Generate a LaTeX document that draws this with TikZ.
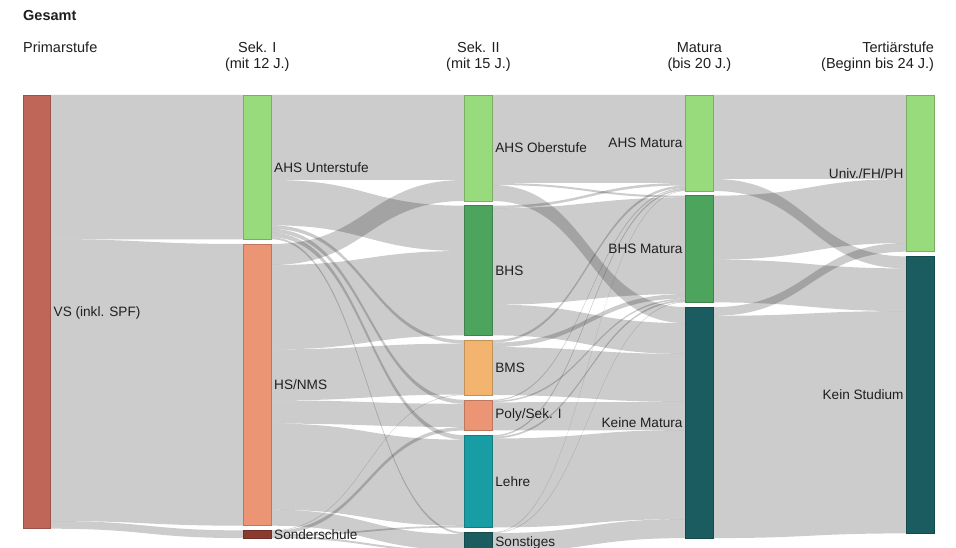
\documentclass[tikz,border=0pt]{standalone}
\usepackage{fontspec}
\setmainfont{Liberation Sans}
\usetikzlibrary{calc}
\pgfdeclarelayer{back}
\pgfdeclarelayer{links}
\pgfsetlayers{back,links,main}
\definecolor{cVS}{HTML}{BF6659}
\definecolor{cLG}{HTML}{98DB7C}
\definecolor{cSal}{HTML}{EB9575}
\definecolor{cSo}{HTML}{8B3A2F}
\definecolor{cDG}{HTML}{4DA55D}
\definecolor{cBMS}{HTML}{F2B46F}
\definecolor{cLe}{HTML}{179DA3}
\definecolor{cDT}{HTML}{1A5C60}
\tikzset{
 sbox/.style={rectangle, inner sep=0pt, outer sep=0pt, minimum width=27.5pt, line width=0.6pt},
 flow/.style={fill=black, fill opacity=0.2},
 lab/.style={inner sep=0pt, text=black!88, font=\fontsize{13.6}{16}\selectfont},
 head/.style={inner sep=0pt, text=black!88, font=\fontsize{14.5}{17}\selectfont},
}
% node: name, colour, x, y top, height
\newcommand\mkbox[5]{%
  \node[sbox, fill=#2, draw=#2!80!black, minimum height=#5pt, anchor=north west] (#1) at (#3,#4) {};
  \expandafter\gdef\csname out#1\endcsname{0}%
  \expandafter\gdef\csname in#1\endcsname{0}}
% band: source, target, value (stacked automatically)
\newcommand\flowband[3]{%
  \pgfmathsetmacro\fso{\csname out#1\endcsname}%
  \pgfmathsetmacro\fti{\csname in#2\endcsname}%
  \pgfmathsetmacro\fse{\fso+#3}%
  \pgfmathsetmacro\fte{\fti+#3}%
  \begin{pgfonlayer}{links}
  \fill[flow] let \p1=(#1.north east), \p2=(#2.north west), \p3=($(\p1)!0.5!(\p2)$) in
    (\x1,\y1-\fso pt) .. controls (\x3,\y1-\fso pt) and (\x3,\y2-\fti pt) .. (\x2,\y2-\fti pt)
    -- (\x2,\y2-\fte pt) .. controls (\x3,\y2-\fte pt) and (\x3,\y1-\fse pt) .. (\x1,\y1-\fse pt) -- cycle;
  \end{pgfonlayer}
  \expandafter\xdef\csname out#1\endcsname{\fse}%
  \expandafter\xdef\csname in#2\endcsname{\fte}}

\begin{document}
\begin{tikzpicture}[x=1pt,y=-1pt]
\useasboundingbox (0,0) rectangle (956,548);
\begin{pgfonlayer}{back}
\fill[white] (0,0) rectangle (956,548);
\end{pgfonlayer}

% column 1
\mkbox{VS}{cVS}{23}{95}{433.7}
% column 2
\mkbox{AHSU}{cLG}{243.5}{95}{144.3}
\mkbox{HS}{cSal}{243.5}{244}{281.7}
\mkbox{SO}{cSo}{243.5}{530.4}{7.7}
% column 3
\mkbox{AHSO}{cLG}{464.7}{95}{106}
\mkbox{BHS}{cDG}{464.7}{205.7}{129.7}
\mkbox{BMS}{cBMS}{464.7}{340.1}{55}
\mkbox{Poly}{cSal}{464.7}{399.8}{30.7}
\mkbox{Lehre}{cLe}{464.7}{435.2}{92.3}
\mkbox{Sonst}{cDT}{464.7}{532.2}{20}
% column 4
\mkbox{AHSM}{cLG}{685.7}{95}{96}
\mkbox{BHSM}{cDG}{685.7}{195.7}{106.7}
\mkbox{KM}{cDT}{685.7}{307.1}{231}
% column 5
\mkbox{Univ}{cLG}{906.7}{95}{156.7}
\mkbox{KS}{cDT}{906.7}{256.4}{277}

% flows 1 -> 2
\flowband{VS}{AHSU}{144.3}
\flowband{VS}{HS}{281.7}
\flowband{VS}{SO}{7.7}
% flows 2 -> 3
\flowband{AHSU}{AHSO}{85}
\flowband{AHSU}{BHS}{45.3}
\flowband{AHSU}{BMS}{3.5}
\flowband{AHSU}{Poly}{4}
\flowband{AHSU}{Lehre}{4.5}
\flowband{AHSU}{Sonst}{2}
\flowband{HS}{AHSO}{21}
\flowband{HS}{BHS}{84.4}
\flowband{HS}{BMS}{51}
\flowband{HS}{Poly}{23.2}
\flowband{HS}{Lehre}{86.1}
\flowband{HS}{Sonst}{16}
\flowband{SO}{BMS}{0.5}
\flowband{SO}{Poly}{3.5}
\flowband{SO}{Lehre}{1.7}
\flowband{SO}{Sonst}{2}
% flows 3 -> 4
\flowband{AHSO}{AHSM}{88}
\flowband{AHSO}{BHSM}{2}
\flowband{AHSO}{KM}{16}
\flowband{BHS}{AHSM}{2.5}
\flowband{BHS}{BHSM}{96.4}
\flowband{BHS}{KM}{30.8}
\flowband{BMS}{AHSM}{2.5}
\flowband{BMS}{BHSM}{4.5}
\flowband{BMS}{KM}{48}
\flowband{Poly}{AHSM}{1}
\flowband{Poly}{BHSM}{1.5}
\flowband{Poly}{KM}{28.2}
\flowband{Lehre}{AHSM}{1.5}
\flowband{Lehre}{BHSM}{1.8}
\flowband{Lehre}{KM}{89}
\flowband{Sonst}{AHSM}{0.5}
\flowband{Sonst}{BHSM}{0.5}
\flowband{Sonst}{KM}{19}
% flows 4 -> 5
\flowband{AHSM}{Univ}{84}
\flowband{AHSM}{KS}{12}
\flowband{BHSM}{Univ}{64}
\flowband{BHSM}{KS}{42.7}
\flowband{KM}{Univ}{8.7}
\flowband{KM}{KS}{222.3}

% node labels
\node[lab, anchor=west] (tVS) at ([xshift=3pt,yshift=-1pt]VS.east) {VS (inkl. SPF)};
\node[lab, anchor=west] (tAHSU) at ([xshift=3pt]AHSU.east) {AHS Unterstufe};
\node[lab, anchor=west] (tHS) at ([xshift=3pt]HS.east) {HS/NMS};
\node[lab, anchor=west] (tSO) at ([xshift=3pt]SO.east) {Sonderschule};
\node[lab, anchor=west] (tAHSO) at ([xshift=3pt]AHSO.east) {AHS Oberstufe};
\node[lab, anchor=west] (tBHS) at ([xshift=3pt]BHS.east) {BHS};
\node[lab, anchor=west] (tBMS) at ([xshift=3pt]BMS.east) {BMS};
\node[lab, anchor=west] (tPoly) at ([xshift=3pt]Poly.east) {Poly/Sek. I};
\node[lab, anchor=west] (tLehre) at ([xshift=3pt]Lehre.east) {Lehre};
\node[lab, anchor=west] (tSonst) at ([xshift=3pt,yshift=-1pt]Sonst.east) {Sonstiges};
\node[lab, anchor=east] (tAHSM) at ([xshift=-3pt]AHSM.west) {AHS Matura};
\node[lab, anchor=east] (tBHSM) at ([xshift=-3pt]BHSM.west) {BHS Matura};
\node[lab, anchor=east] (tKM) at ([xshift=-3pt]KM.west) {Keine Matura};
\node[lab, anchor=east] (tUniv) at ([xshift=-3pt]Univ.west) {Univ./FH/PH};
\node[lab, anchor=east] (tKS) at ([xshift=-3pt]KS.west) {Kein Studium};

% headers
\node[head, anchor=base west] (hG) at (23,21) {\bfseries Gesamt};
\node[head, anchor=base west] (h1) at (23,52.8) {Primarstufe};
\node[head, anchor=base] (h2a) at (257.3,52.8) {Sek. I};
\node[head, anchor=base] (h2b) at (257.3,68.5) {(mit 12 J.)};
\node[head, anchor=base] (h3a) at (478.4,52.8) {Sek. II};
\node[head, anchor=base] (h3b) at (478.4,68.5) {(mit 15 J.)};
\node[head, anchor=base] (h4a) at (699.4,52.8) {Matura};
\node[head, anchor=base] (h4b) at (699.4,68.5) {(bis 20 J.)};
\node[head, anchor=base east] (h5a) at (934.2,52.8) {Tertiärstufe};
\node[head, anchor=base east] (h5b) at (934.2,68.5) {(Beginn bis 24 J.)};
\end{tikzpicture}
\end{document}
